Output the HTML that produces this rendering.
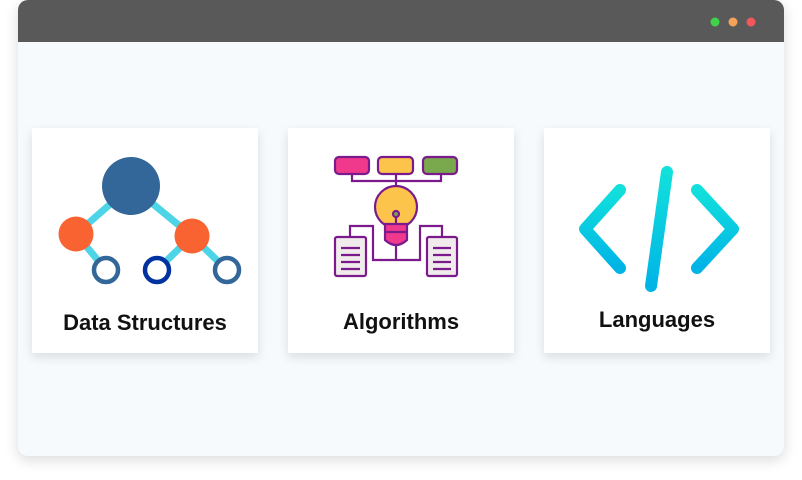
<!DOCTYPE html>
<html><head><style>
body{margin:0;width:802px;height:480px;background:#fff;font-family:"Liberation Sans",sans-serif;position:relative;overflow:hidden}
.win{position:absolute;left:18px;top:0;width:766px;height:456px;border-radius:10px;background:#f7fafd;box-shadow:0 4px 14px rgba(0,0,0,.15);overflow:hidden}
.bar{height:42px;background:#595959}
.card{position:absolute;top:128px;width:226px;height:225px;background:#fff;box-shadow:0 4px 10px rgba(0,0,0,.12)}
.t{position:absolute;left:0;right:0;text-align:center;font-weight:bold;font-size:22px;color:#111}
</style></head><body>
<div class="win"><div class="bar"></div></div>
<svg style="position:absolute;left:0;top:0" width="802" height="480">
<circle cx="715" cy="22" r="4.5" fill="#3fd34a"/><circle cx="733" cy="22" r="4.5" fill="#f5a25a"/><circle cx="751" cy="22" r="4.5" fill="#f2575a"/>
</svg>
<div class="card" style="left:32px"><div class="t" style="top:182px">Data Structures</div></div>
<div class="card" style="left:288px"><div class="t" style="top:181px">Algorithms</div></div>
<div class="card" style="left:544px"><div class="t" style="top:179px">Languages</div></div>
<svg style="position:absolute;left:0;top:0" width="802" height="480">
<defs><linearGradient id="g" x1="0" y1="0" x2="0" y2="1"><stop offset="0" stop-color="#12e0dc"/><stop offset="1" stop-color="#00b4e6"/></linearGradient></defs>
<g stroke="#4dd4e6" stroke-width="7"><line x1="131" y1="186" x2="76" y2="234"/><line x1="76" y1="234" x2="106" y2="270"/><line x1="131" y1="186" x2="192" y2="236"/><line x1="192" y1="236" x2="157" y2="270"/><line x1="192" y1="236" x2="227" y2="270"/></g>
<circle cx="131" cy="186" r="29" fill="#336699"/>
<circle cx="76" cy="234" r="17.5" fill="#f96332"/><circle cx="192" cy="236" r="17.5" fill="#f96332"/>
<g fill="#fff" stroke-width="4.5"><circle cx="106" cy="270" r="12" stroke="#336699"/><circle cx="157" cy="270" r="12" stroke="#0033a0"/><circle cx="227" cy="270" r="12" stroke="#336699"/></g>
<g stroke="#7a1a8c" stroke-width="2.2" fill="none">
<path d="M352 174V181H441V174M396 174V186"/>
<path d="M350 238V226H373V260H420V226H442V238M396 246V260"/>
<rect x="335" y="157" width="34" height="17" rx="4" fill="#f0398c"/>
<rect x="378" y="157" width="35" height="17" rx="4" fill="#fdc44c"/>
<rect x="423" y="157" width="34" height="17" rx="4" fill="#7aa84c"/>
<circle cx="396" cy="207" r="21" fill="#fdc44c"/>
<path d="M385 224H407V240Q396 250 385 240Z" fill="#f0398c"/>
<line x1="385" y1="232" x2="407" y2="232"/>
<line x1="396" y1="216" x2="396" y2="224"/><circle cx="396" cy="214" r="3" fill="#7aa84c"/>
<rect x="335" y="237" width="31" height="39" rx="2" fill="#f1ecec"/>
<rect x="427" y="237" width="30" height="39" rx="2" fill="#f1ecec"/>
<path d="M341 248H360M341 255H360M341 262H360M341 269H360M433 248H451M433 255H451M433 262H451M433 269H451"/>
</g>
<g stroke="url(#g)" stroke-width="12" stroke-linecap="round" stroke-linejoin="round" fill="none">
<path d="M620 190L585 229L620 268"/><path d="M697 190L733 229L697 268"/><path d="M667 172L651 286"/>
</g>
</svg>
</body></html>
